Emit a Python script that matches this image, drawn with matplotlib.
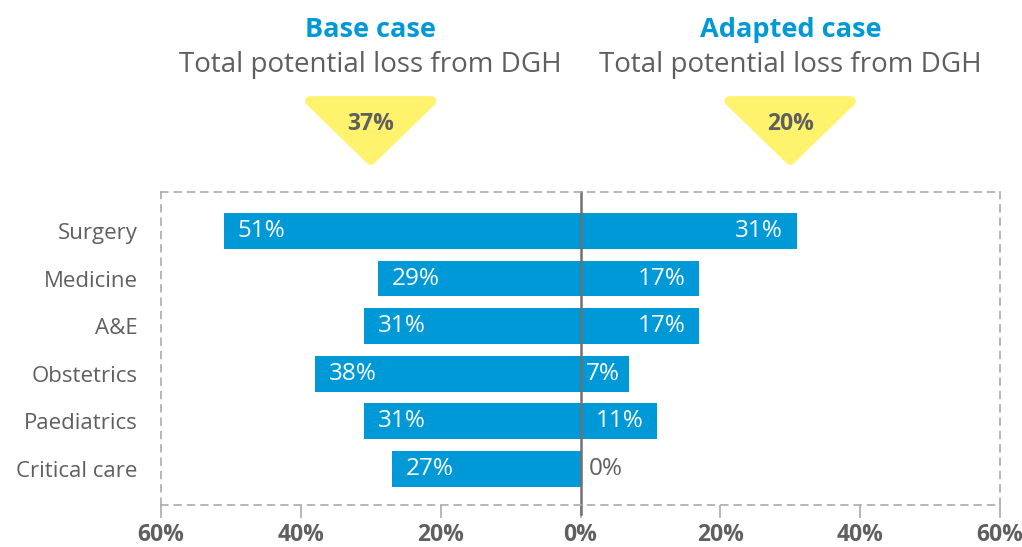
import matplotlib.pyplot as plt
from matplotlib.patches import Polygon
from matplotlib.transforms import blended_transform_factory

plt.rcParams['font.family'] = ['Open Sans', 'DejaVu Sans']

categories = ['Surgery', 'Medicine', 'A&E', 'Obstetrics', 'Paediatrics', 'Critical care']
base_case = [51, 29, 31, 38, 31, 27]
adapted_case = [31, 17, 17, 7, 11, 0]
totals = [37, 20]
headers = ['Base case', 'Adapted case']
subtitle = 'Total potential loss from DGH'
ticks = [-60, -40, -20, 0, 20, 40, 60]

blue = '#0099d8'
grey = '#5f5f5f'
yellow = '#fff36d'

fig = plt.figure(figsize=(10.22, 5.47), dpi=100)
ax = fig.add_axes([161 / 1022, 42 / 547, 839 / 1022, 313 / 547])

y = list(range(len(categories)))
ax.barh(y, [-v for v in base_case], height=0.75, color=blue)
ax.barh(y, adapted_case, height=0.75, color=blue)

fs = 17.5
for i, v in enumerate(base_case):
    ax.text(-v + 2, i, f'{v}%', color='white', fontsize=fs, va='center', ha='left')
for i, v in enumerate(adapted_case):
    if v == 0:
        ax.text(1.2, i, f'{v}%', color=grey, fontsize=fs, va='center', ha='left')
    elif v < 10:
        ax.text(0.7, i, f'{v}%', color='white', fontsize=fs, va='center', ha='left')
    else:
        ax.text(v - 2, i, f'{v}%', color='white', fontsize=fs, va='center', ha='right')

ax.set_xlim(-60, 60)
ax.set_ylim(len(categories) - 1 + 0.76, -0.82)
ax.set_yticks(y)
ax.set_yticklabels(categories, fontsize=16, color=grey)
ax.set_xticks(ticks)
ax.set_xticklabels([f'{abs(t)}%' for t in ticks], fontsize=16.5, color=grey, fontweight='bold')
ax.tick_params(axis='y', length=0, pad=17)
ax.tick_params(axis='x', length=9, color='#aaaaaa', width=1.2, pad=4, direction='out')

for s in ax.spines.values():
    s.set_linestyle((0, (4, 4)))
    s.set_color('#aaaaaa')
    s.set_linewidth(1.2)

ax.axvline(0, ymin=-0.03, ymax=1, color='#707070', lw=1.8, clip_on=False)

# headers and yellow markers
tr = blended_transform_factory(ax.transData, fig.transFigure)
for cx, head, tot in zip([-30, 30], headers, totals):
    ax.text(cx, 1 - 30 / 547, head, transform=tr, ha='center', va='center',
            fontsize=19.5, fontweight='bold', color=blue)
    ax.text(cx, 1 - 65 / 547, subtitle, transform=tr, ha='center', va='center',
            fontsize=20, color=grey)
    tri = Polygon([(cx - 8.7, 1 - 101 / 547), (cx + 8.7, 1 - 101 / 547), (cx, 1 - 160 / 547)],
                  closed=True, transform=tr, facecolor=yellow, edgecolor=yellow,
                  linewidth=7, joinstyle='round', clip_on=False)
    ax.add_patch(tri)
    ax.text(cx, 1 - 124 / 547, f'{tot}%', transform=tr, ha='center', va='center',
            fontsize=16.5, fontweight='bold', color=grey)

plt.savefig('out.png', dpi=100)
